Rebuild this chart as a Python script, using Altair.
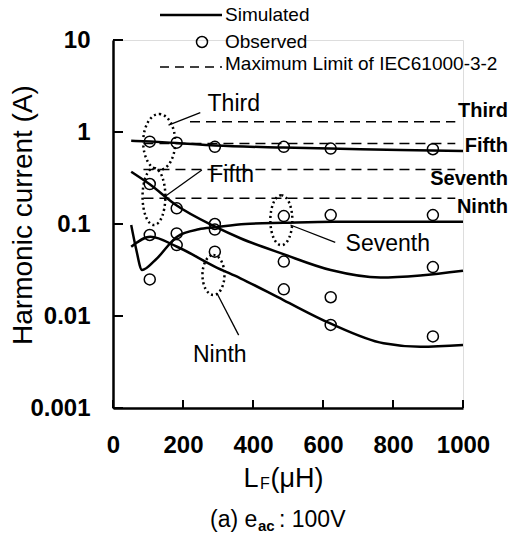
import altair as alt
import pandas as pd

FONT = "Liberation Sans"

# ---------------- data ----------------
obs_x = [105, 182, 291, 488, 622, 914]
obs_third = [0.785, 0.766, 0.69, 0.69, 0.66, 0.65]
obs_fifth = [0.272, 0.148, 0.100, 0.039, 0.016, 0.034]
obs_seventh = [0.025, 0.079, 0.087, 0.122, 0.125, 0.125]
obs_ninth = [0.076, 0.059, 0.050, 0.0195, 0.008, 0.006]

sim_third_x = [52, 107, 181, 292, 487, 621, 821, 1000]
sim_third_y = [0.804, 0.788, 0.759, 0.713, 0.678, 0.662, 0.637, 0.622]
sim_fifth_x = [52, 104, 180, 292, 364, 487, 622, 764, 878, 1000]
sim_fifth_y = [0.370, 0.272, 0.161, 0.0935, 0.070, 0.047, 0.0316, 0.0262, 0.0276, 0.031]
sim_seventh_x = [52, 65, 83, 121, 183, 245, 292, 378, 487, 630, 1000]
sim_seventh_y = [0.0975, 0.056, 0.0316, 0.0406, 0.0728, 0.0875, 0.092, 0.100, 0.103, 0.106, 0.106]
sim_ninth_x = [52, 107, 183, 292, 364, 487, 621, 773, 878, 1000]
sim_ninth_y = [0.0566, 0.0728, 0.0566, 0.0343, 0.0257, 0.0149, 0.0083, 0.00505, 0.00463, 0.00484]

harmonics = ["Third", "Fifth", "Seventh", "Ninth"]
limit_values = [1.29, 0.75, 0.39, 0.19]
limit_start = [220, 87, 87, 87]
limit_end = [978, 978, 978, 978]

x_ticks = [0, 200, 400, 600, 800, 1000]
y_ticks = [0.001, 0.01, 0.1, 1, 10]

# ---------------- annotation placement ----------------
limit_label_y = [1.71, 0.713, 0.308, 0.153]

inner_label_x = [345, 339, 785, 305]
inner_label_y = [2.01, 0.341, 0.0607, 0.00377]

oval_x = [132, 117, 481, 287]
oval_y = [0.778, 0.199, 0.110, 0.0279]
oval_aspect = [0.571, 0.40, 0.44, 0.55]
oval_size = [3136, 3249, 2500, 1600]

ptr_x = [158.6, 149.4, 507, 297]
ptr_y = [1.19, 0.2, 0.0975, 0.01766]
ptr_x2 = [249.4, 254, 635, 359]
ptr_y2 = [1.62, 0.386, 0.063, 0.0062]

# ---------------- tables ----------------
obs_df = pd.DataFrame({
    "x": obs_x * 4,
    "y": obs_third + obs_fifth + obs_seventh + obs_ninth,
    "h": sum([[h] * len(obs_x) for h in harmonics], []),
})
sim_rows = []
for h, xs_, ys_ in [("Third", sim_third_x, sim_third_y), ("Fifth", sim_fifth_x, sim_fifth_y),
                    ("Seventh", sim_seventh_x, sim_seventh_y), ("Ninth", sim_ninth_x, sim_ninth_y)]:
    for a, b in zip(xs_, ys_):
        sim_rows.append({"x": a, "y": b, "h": h})
sim_df = pd.DataFrame(sim_rows)
lim_df = pd.DataFrame({"h": harmonics, "v": limit_values, "x0": limit_start,
                       "x1": limit_end, "ly": limit_label_y})
inner_df = pd.DataFrame({"t": harmonics, "x": inner_label_x, "y": inner_label_y})
ptr_df = pd.DataFrame({"x": ptr_x, "y": ptr_y, "x2": ptr_x2, "y2": ptr_y2})

xs = alt.Scale(domain=[0, 1000], nice=False, zero=False)
ys = alt.Scale(type="log", domain=[0.001, 10], nice=False)

x_axis = alt.Axis(
    values=x_ticks, format="d", ticks=False, grid=False, title=None, domainColor="black",
    domainWidth=2.5, domainOpacity=1, labelFont=FONT, labelFontSize=24,
    labelFontWeight="bold", labelColor="black", labelPadding=25,
    labelFlush=False, labelOverlap=False)
y_axis = alt.Axis(
    values=y_ticks, format="~g", ticks=False, grid=False, title=None,
    domainColor="black", domainWidth=2.5, domainOpacity=1, labelFont=FONT,
    labelFontSize=24, labelFontWeight="bold", labelColor="black", labelPadding=23,
    labelFlush=False, labelOverlap=False)

X = lambda f="x": alt.X(f"{f}:Q", scale=xs, axis=x_axis, title=None)
Y = lambda f="y": alt.Y(f"{f}:Q", scale=ys, axis=y_axis, title=None)

# ---------------- layers ----------------
base = alt.Chart(obs_df).mark_point(shape="circle", filled=False, size=121,
                                    color="black", strokeWidth=1.5, opacity=1).encode(
    x=X(), y=Y())

sim = alt.Chart(sim_df).mark_line(color="black", strokeWidth=2.5,
                                  interpolate="monotone").encode(
    x=X(), y=Y(), detail="h:N")

limits = alt.Chart(lim_df).mark_rule(color="black", strokeWidth=1.5,
                                     strokeDash=[10, 6]).encode(
    x=X("x0"), x2="x1:Q", y=Y("v"))

limit_labels = alt.Chart(lim_df).mark_text(font=FONT, fontSize=20, fontWeight="bold",
                                           align="right", baseline="middle",
                                           color="black").encode(
    x=alt.value(395), y=Y("ly"), text="h:N")

inner_labels = alt.Chart(inner_df).mark_text(font=FONT, fontSize=23, align="center",
                                             baseline="middle", color="black").encode(
    x=X(), y=Y(), text="t:N")

pointers = alt.Chart(ptr_df).mark_rule(color="black", strokeWidth=1.3).encode(
    x=X(), y=Y(), x2="x2:Q", y2="y2:Q")

ovals = []
for i in range(4):
    a = oval_aspect[i]
    path = f"M0,-1 A{a},1 0 1,1 0,1 A{a},1 0 1,1 0,-1 Z"
    odf = pd.DataFrame({"x": [oval_x[i]], "y": [oval_y[i]]})
    ovals.append(alt.Chart(odf).mark_point(shape=path, size=oval_size[i], filled=False,
                                           color="black", strokeWidth=2.5,
                                           strokeDash=[2, 3], opacity=1).encode(
        x=X(), y=Y()))

ytick_df = pd.DataFrame({"v": y_ticks})
xtick_df = pd.DataFrame({"v": x_ticks})
yticks = alt.Chart(ytick_df).mark_rule(color="black", strokeWidth=2).encode(
    y=Y("v"), x=alt.value(0), x2=alt.value(10))
xticks = alt.Chart(xtick_df).mark_rule(color="black", strokeWidth=2).encode(
    x=X("v"), y=alt.value(368), y2=alt.value(360))

# legend (manual)
one = pd.DataFrame({"t": ["Simulated", "Observed", "Maximum Limit of IEC61000-3-2"],
                    "py": [-25, 2, 24]})
leg_text = alt.Chart(one).mark_text(font=FONT, fontSize=19, align="left",
                                    baseline="middle", color="black").encode(
    x=alt.value(112), y=alt.Y("py:Q", scale=None), text="t:N")
leg_df = pd.DataFrame({"k": [0]})
leg_line = alt.Chart(leg_df).mark_rule(color="black", strokeWidth=2.5).encode(
    x=alt.value(47), x2=alt.value(109), y=alt.value(-25))
leg_dash = alt.Chart(leg_df).mark_rule(color="black", strokeWidth=1.5,
                                       strokeDash=[9, 6]).encode(
    x=alt.value(47), x2=alt.value(109), y=alt.value(27))
leg_pt = alt.Chart(leg_df).mark_point(shape="circle", filled=False, size=121,
                                      color="black", strokeWidth=1.5, opacity=1).encode(
    x=alt.value(89), y=alt.value(2))

# axis titles (manual, for rotation / subscripts)
def txt(s, px, py, size, weight="normal", align="left", baseline="alphabetic", angle=0):
    d = pd.DataFrame({"t": [s]})
    kw = dict(font=FONT, fontSize=size, fontWeight=weight, align=align,
              baseline=baseline, color="black")
    if angle:
        kw["angle"] = angle
    return alt.Chart(d).mark_text(**kw).encode(
        x=alt.value(px), y=alt.value(py), text="t:N")

ytitle = txt("Harmonic current (A)", -89, 175, 28, align="center",
             baseline="middle", angle=270)
xt1 = txt("L", 130.5, 447, 27)
xt2 = txt("F", 147, 449, 16)
xt3 = txt("(μH)", 157.5, 447, 27)
st1 = txt("(a) e", 97, 487, 23)
st2 = txt("ac", 145, 491, 15, weight="bold")
st3 = txt(": 100V", 166, 487, 23)

chart = alt.layer(
    base, limits, sim, *ovals, pointers, inner_labels, limit_labels,
    yticks, xticks, leg_line, leg_dash, leg_pt, leg_text,
    ytitle, xt1, xt2, xt3, st1, st2, st3,
).properties(
    width=350, height=368,
    autosize=alt.AutoSizeParams(type="none"),
    padding={"left": 113, "top": 40, "right": 51, "bottom": 128},
).configure_view(stroke=None).configure(font=FONT)

chart.save("out.html", embed_options={"renderer": "svg", "actions": False})
